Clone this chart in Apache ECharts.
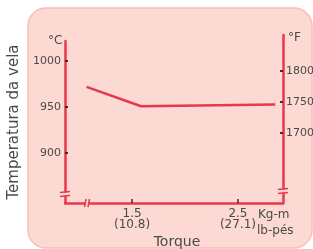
<!DOCTYPE html>
<html>
<head>
<meta charset="utf-8">
<script src="https://cdn.jsdelivr.net/npm/echarts@6/dist/echarts.min.js"></script>
<style>
html, body { margin: 0; padding: 0; background: #fff; }
#main { width: 313px; height: 249px; }
</style>
</head>
<body>
<div id="main"></div>
<script>
// torque (Kg-m) vs spark plug temperature (°C)
var torque = [1.07, 1.585, 2.853];
var tempC = [972, 951, 953];

var xTicks = [1.5, 2.5];
var xTickLabels = ['1.5\n(10.8)', '2.5\n(27.1)'];
var cTicks = [900, 950, 1000];
var fTicks = [1700, 1750, 1800];

var RED = '#e8394c';
var PANEL = '#fcd9d3';
var TXT = '#4a4a4a';
var FONT = 'DejaVu Sans';

var myChart = echarts.init(document.getElementById('main'));

var lineData = [];
for (var i = 0; i < torque.length; i++) {
    lineData.push([torque[i], tempC[i]]);
}

// little break marks on the axes
function breakH(cx, cy) {
    return [
        { type: 'rect', z: 50, shape: { x: cx - 3, y: cy - 1.5, width: 6, height: 3 }, style: { fill: PANEL } },
        { type: 'line', z: 51, shape: { x1: cx - 5, y1: cy - 1.5, x2: cx + 5, y2: cy - 2.5 }, style: { stroke: RED, lineWidth: 1.5 } },
        { type: 'line', z: 51, shape: { x1: cx - 5, y1: cy + 2.5, x2: cx + 5, y2: cy + 1.5 }, style: { stroke: RED, lineWidth: 1.5 } }
    ];
}
function breakV(cx, cy) {
    return [
        { type: 'rect', z: 50, shape: { x: cx - 1.5, y: cy - 3, width: 3, height: 6 }, style: { fill: PANEL } },
        { type: 'line', z: 51, shape: { x1: cx - 2.5, y1: cy + 4, x2: cx - 1, y2: cy - 4 }, style: { stroke: RED, lineWidth: 1.5 } },
        { type: 'line', z: 51, shape: { x1: cx + 1, y1: cy + 4, x2: cx + 2.5, y2: cy - 4 }, style: { stroke: RED, lineWidth: 1.5 } }
    ];
}

var graphics = [
    {
        type: 'rect', z: -10,
        shape: { x: 28, y: 8, width: 284, height: 240, r: 18 },
        style: { fill: PANEL, stroke: '#f6bfb8', lineWidth: 1.5 }
    },
    { type: 'text', z: 60, left: 48, top: 35, style: { text: '°C', fill: TXT, font: '12px "' + FONT + '"' } },
    { type: 'text', z: 60, left: 288, top: 32, style: { text: '°F', fill: TXT, font: '12px "' + FONT + '"' } },
    { type: 'text', z: 60, left: 258, top: 209, style: { text: 'Kg-m', fill: TXT, font: '12px "' + FONT + '"' } },
    { type: 'text', z: 60, left: 257, top: 225, style: { text: 'lb-pés', fill: TXT, font: '12px "' + FONT + '"' } }
];
graphics = graphics.concat(breakH(65, 194), breakH(283, 191), breakV(87, 203));

function plain(v) {
    return String(v);
}

option = {
    backgroundColor: '#fff',
    animation: false,
    grid: [
        { left: 65, right: 30, top: 41, bottom: 46, outerBoundsMode: 'none', containLabel: false },
        { left: 65, right: 30, top: 35, bottom: 46, outerBoundsMode: 'none', containLabel: false }
    ],
    xAxis: [{
        type: 'value',
        gridIndex: 0,
        min: 0.866,
        max: 2.926,
        name: 'Torque',
        nameLocation: 'middle',
        nameGap: 32,
        nameTextStyle: { color: TXT, fontSize: 14, fontFamily: FONT, padding: [0, 0, 0, 6] },
        axisLine: { show: true, lineStyle: { color: RED, width: 2.5 } },
        axisTick: {
            show: true, inside: true, length: 4,
            customValues: xTicks,
            lineStyle: { color: '#333', width: 1.5 }
        },
        axisLabel: {
            customValues: xTicks,
            color: TXT, fontSize: 12, fontFamily: FONT, lineHeight: 11, margin: 5,
            formatter: function(v) {
                var k = xTicks.indexOf(v);
                return k >= 0 ? xTickLabels[k] : '';
            }
        },
        splitLine: { show: false }
    }, {
        type: 'value',
        gridIndex: 1,
        show: false,
        min: 0.866,
        max: 2.926
    }],
    yAxis: [{
        type: 'value',
        gridIndex: 0,
        min: 845.7,
        max: 1022,
        name: 'Temperatura da vela',
        nameLocation: 'middle',
        nameGap: 37,
        nameTextStyle: { color: TXT, fontSize: 15, fontFamily: FONT },
        axisLine: { show: true, lineStyle: { color: RED, width: 2.5 } },
        axisTick: {
            show: true, inside: true, length: 3,
            customValues: cTicks,
            lineStyle: { color: '#333', width: 2 }
        },
        axisLabel: {
            customValues: cTicks,
            formatter: plain,
            color: TXT, fontSize: 11, fontFamily: FONT, margin: 4
        },
        splitLine: { show: false }
    }, {
        type: 'value',
        gridIndex: 1,
        position: 'right',
        min: 1587.6,
        max: 1857.8,
        axisLine: { show: true, lineStyle: { color: RED, width: 2.5 } },
        axisTick: {
            show: true, inside: true, length: 3,
            customValues: fTicks,
            lineStyle: { color: '#333', width: 2 }
        },
        axisLabel: {
            customValues: fTicks,
            formatter: plain,
            color: TXT, fontSize: 11, fontFamily: FONT, margin: 3
        },
        splitLine: { show: false }
    }],
    series: [{
        type: 'line',
        xAxisIndex: 0,
        yAxisIndex: 0,
        data: lineData,
        symbol: 'none',
        lineStyle: { color: RED, width: 2.5 },
        z: 5
    }],
    graphic: graphics
};

myChart.setOption(option);
</script>
</body>
</html>
